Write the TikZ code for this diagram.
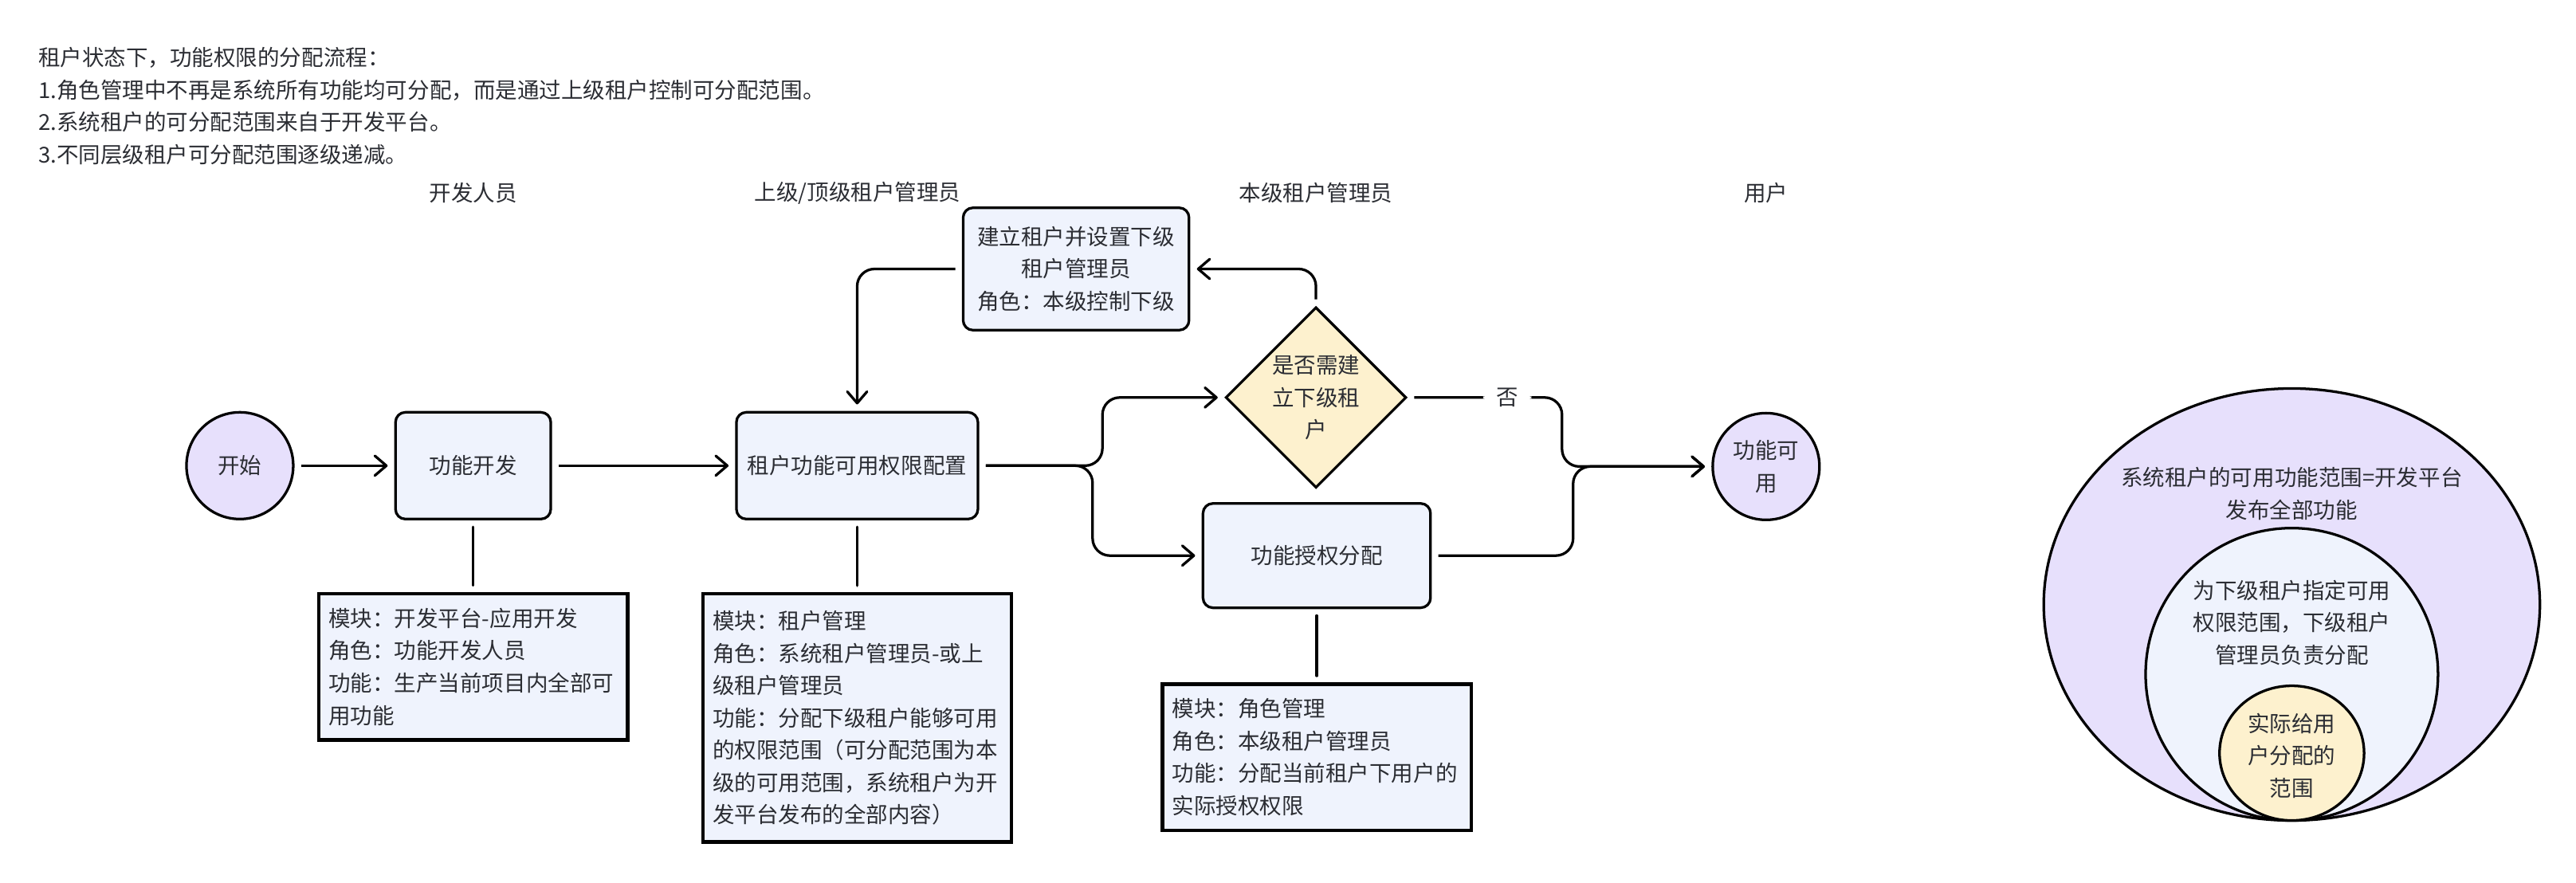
\documentclass[tikz,border=0pt]{standalone}
\usepackage{fontspec}
\setmainfont{Noto Sans CJK SC}
\usetikzlibrary{shapes.geometric, arrows.meta}
\definecolor{boxfill}{HTML}{EFF3FD}
\definecolor{termfill}{HTML}{E7E0FC}
\definecolor{askfill}{HTML}{FDF1CE}
\definecolor{txt}{HTML}{2B2D33}

\begin{document}
\begin{tikzpicture}[font=\fontsize{7.6}{11.2}\selectfont, text=txt,
    proc/.style={draw, rounded corners=0.12cm, fill=boxfill, line width=0.9pt, align=center, inner sep=0pt},
    memo/.style={draw, fill=boxfill, line width=1.2pt, text width=3.52cm, align=left, inner xsep=0.12cm, inner ysep=0pt},
    term/.style={draw, circle, fill=termfill, line width=0.9pt, minimum size=1.3cm, inner sep=0pt, align=center},
    decision/.style={draw, diamond, fill=askfill, line width=0.9pt, minimum size=2.2cm, inner sep=0pt, align=center},
    flow/.style={-{Straight Barb[length=1.4mm, width=2.4mm, round]}, line width=0.9pt, rounded corners=0.21cm, shorten <=0.08cm, shorten >=0.08cm},
    link/.style={line width=0.9pt, line cap=round, shorten <=0.08cm, shorten >=0.08cm}]
        \useasboundingbox (0,0) rectangle (31.36,10.75);
        \node[anchor=west, align=left, inner sep=0pt] (intro) at (0.46,9.46) {租户状态下，功能权限的分配流程：\\1.角色管理中不再是系统所有功能均可分配，而是通过上级租户控制可分配范围。\\2.系统租户的可分配范围来自于开发平台。\\3.不同层级租户可分配范围逐级递减。};
        \node (lanedev) at (5.76,8.40) {开发人员};
        \node (laneup) at (10.44,8.40) {上级/顶级租户管理员};
        \node (lanecur) at (16.02,8.40) {本级租户管理员};
        \node (laneuser) at (21.50,8.40) {用户};

        \node[term] (start) at (2.92,5.08) {开始};
        \node[proc, minimum width=1.89cm, minimum height=1.3cm] (dev) at (5.76,5.08) {功能开发};
        \node[proc, minimum width=2.94cm, minimum height=1.3cm] (config) at (10.435,5.08) {租户功能可用权限配置};
        \node[proc, minimum width=2.75cm, minimum height=1.49cm] (create) at (13.10,7.475) {建立租户并设置下级\\租户管理员\\角色：本级控制下级};
        \node[decision] (decide) at (16.02,5.91) {是否需建\\立下级租\\户};
        \node[proc, minimum width=2.77cm, minimum height=1.27cm] (grant) at (16.03,3.985) {功能授权分配};
        \node[term] (done) at (21.50,5.07) {功能可\\用};

        \node[memo, minimum height=1.78cm] (devnote) at (5.76,2.631) {模块：开发平台-应用开发\\角色：功能开发人员\\功能：生产当前项目内全部可\\用功能};
        \node[memo, minimum height=3.02cm] (cfgnote) at (10.435,2.008) {模块：租户管理\\角色：系统租户管理员-或上\\级租户管理员\\功能：分配下级租户能够可用\\的权限范围（可分配范围为本\\级的可用范围，系统租户为开\\发平台发布的全部内容）};
        \node[memo, minimum height=1.78cm] (grantnote) at (16.03,1.53) {模块：角色管理\\角色：本级租户管理员\\功能：分配当前租户下用户的\\实际授权权限};

        \draw[flow] (start) -- (dev);
        \draw[flow] (dev) -- (config);
        \draw[flow] (config.east) -- ++(1.5,0) |- (decide.west);
        \draw[flow] (config.east) -- ++(1.38,0) |- (grant.west);
        \draw[flow] (decide.north) |- (create.east);
        \draw[flow] (create.west) -| (config.north);
        \draw[flow] (decide.east) -- node[pos=0.645, fill=white, inner xsep=0.16cm, inner ysep=0.03cm] (nolabel) {否} ++(1.88,0) |- (done.west);
        \draw[flow] (grant.east) -- ++(1.72,0) |- (done.west);
        \draw[link] (dev) -- (devnote);
        \draw[link] (config) -- (cfgnote);
        \draw[link] (grant) -- (grantnote);

        \filldraw[fill=termfill, line width=0.9pt] (27.90,3.39) ellipse [x radius=3.02cm, y radius=2.63cm];
        \filldraw[fill=boxfill, line width=0.9pt] (27.90,2.54) circle [radius=1.78cm];
        \filldraw[fill=askfill, line width=0.9pt] (27.90,1.58) ellipse [x radius=0.88cm, y radius=0.82cm];
        \node[align=center] (allscope) at (27.90,4.74) {系统租户的可用功能范围=开发平台\\发布全部功能};
        \node[align=center] (subscope) at (27.90,3.17) {为下级租户指定可用\\权限范围，下级租户\\管理员负责分配};
        \node[align=center] (userscope) at (27.90,1.55) {实际给用\\户分配的\\范围};
    \end{tikzpicture}
\end{document}
